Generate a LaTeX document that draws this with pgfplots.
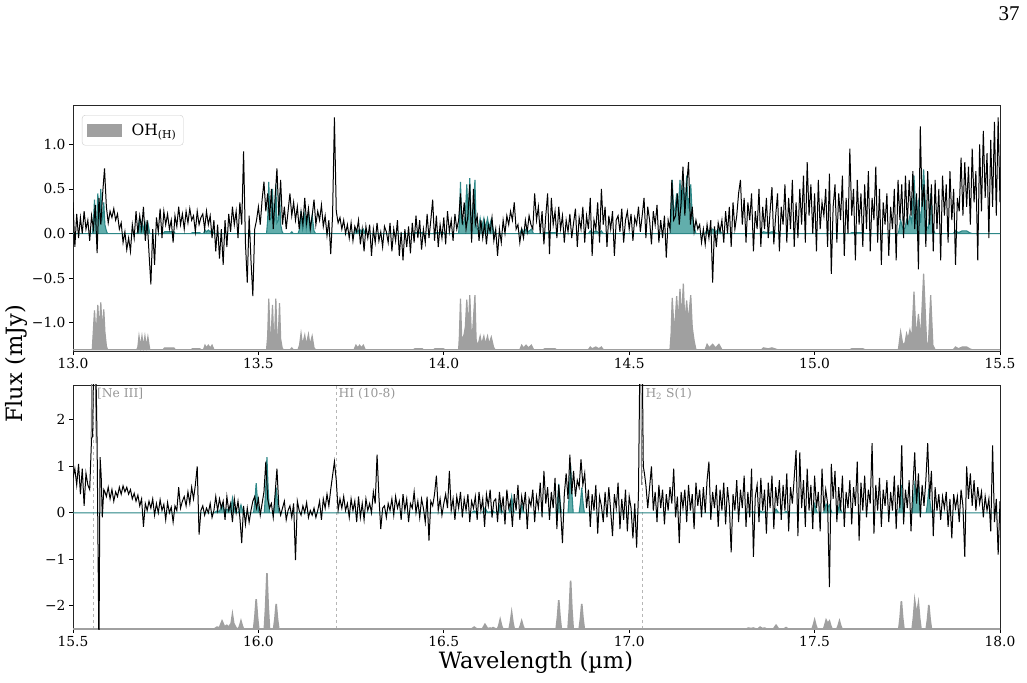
\documentclass[border=0pt]{standalone}
\usepackage{pgfplots}
\usepackage{pgfplotstable}
\pgfplotsset{compat=1.18}
\usepackage{fontspec}
\setmainfont{DejaVu Serif}
\newfontfamily\timesf{Liberation Serif}
\definecolor{ohgray}{RGB}{160,160,160}
\definecolor{tealfill}{RGB}{98,174,172}
\definecolor{tealline}{RGB}{45,135,135}
\definecolor{labgray}{RGB}{150,150,150}

\pgfplotstableread[row sep=\\]{
x t g\\
13.000 0 -1.30\\ 13.052 0 -1.30\\ 13.055 0.12 -1.08\\ 13.058 0.38 -0.86\\ 13.061 0.12 -1.08\\ 13.064 0.18 -1.02\\ 13.067 0.45 -0.80\\ 13.070 0.15 -1.05\\ 13.072 0.20 -1.00\\ 13.075 0.50 -0.77\\ 13.078 0.15 -1.05\\ 13.080 0.18 -1.02\\ 13.083 0.35 -0.85\\ 13.086 0.10 -1.10\\ 13.090 0.03 -1.26\\ 13.093 0 -1.30\\
13.172 0 -1.30\\ 13.175 0.03 -1.27\\ 13.178 0.13 -1.15\\ 13.182 0.03 -1.27\\ 13.186 0.13 -1.15\\ 13.190 0.03 -1.27\\ 13.194 0.13 -1.15\\ 13.198 0.03 -1.27\\ 13.202 0.12 -1.16\\ 13.207 0 -1.30\\
13.243 0 -1.30\\ 13.247 0.02 -1.28\\ 13.272 0.02 -1.28\\ 13.276 0 -1.30\\ 13.318 0 -1.30\\ 13.322 0.01 -1.29\\ 13.342 0.01 -1.29\\ 13.345 0 -1.30\\
13.352 0 -1.30\\ 13.356 0.04 -1.25\\ 13.360 0.02 -1.28\\ 13.365 0.04 -1.25\\ 13.370 0.02 -1.28\\ 13.375 0.04 -1.25\\ 13.380 0 -1.30\\
13.522 0 -1.30\\ 13.525 0.15 -1.15\\ 13.528 0.58 -0.73\\ 13.531 0.15 -1.12\\ 13.535 0.18 -1.10\\ 13.538 0.50 -0.80\\ 13.541 0.12 -1.15\\ 13.544 0.15 -1.12\\ 13.547 0.55 -0.73\\ 13.550 0.12 -1.15\\ 13.554 0.15 -1.12\\ 13.557 0.45 -0.78\\ 13.560 0.10 -1.18\\ 13.564 0.02 -1.28\\ 13.567 0 -1.30\\
13.586 0 -1.30\\ 13.590 0.02 -1.28\\ 13.594 0 -1.30\\
13.607 0 -1.30\\ 13.611 0.05 -1.25\\ 13.615 0.25 -1.12\\ 13.619 0.06 -1.25\\ 13.625 0.22 -1.14\\ 13.629 0.06 -1.25\\ 13.635 0.25 -1.13\\ 13.639 0.06 -1.25\\ 13.645 0.20 -1.15\\ 13.650 0.03 -1.28\\ 13.654 0 -1.30\\
13.758 0 -1.30\\ 13.763 0.05 -1.25\\ 13.768 0.02 -1.28\\ 13.773 0.05 -1.25\\ 13.778 0.02 -1.28\\ 13.783 0.05 -1.25\\ 13.788 0 -1.30\\
13.918 0 -1.30\\ 13.922 0.01 -1.29\\ 13.942 0.01 -1.29\\ 13.945 0 -1.30\\ 13.972 0 -1.30\\ 13.976 0.01 -1.29\\ 13.999 0.01 -1.29\\ 14.003 0 -1.30\\
14.040 0 -1.30\\ 14.042 0.15 -1.15\\ 14.045 0.58 -0.73\\ 14.048 0.15 -1.15\\ 14.052 0.10 -1.18\\ 14.055 0.15 -1.12\\ 14.058 0.20 -1.05\\ 14.062 0.55 -0.74\\ 14.066 0.15 -1.10\\ 14.070 0.62 -0.69\\ 14.074 0.15 -1.10\\ 14.078 0.18 -1.08\\ 14.084 0.60 -0.69\\ 14.087 0.10 -1.18\\ 14.090 0.05 -1.25\\
14.094 0.06 -1.22\\ 14.098 0.17 -1.15\\ 14.102 0.06 -1.24\\ 14.108 0.17 -1.15\\ 14.112 0.06 -1.24\\ 14.118 0.17 -1.15\\ 14.122 0.06 -1.24\\ 14.128 0.16 -1.16\\ 14.134 0.03 -1.27\\ 14.138 0 -1.30\\
14.205 0 -1.30\\ 14.210 0.05 -1.25\\ 14.215 0.02 -1.28\\ 14.222 0.05 -1.25\\ 14.228 0.02 -1.28\\ 14.236 0.05 -1.25\\ 14.242 0 -1.30\\
14.268 0 -1.30\\ 14.272 0.01 -1.29\\ 14.300 0.01 -1.29\\ 14.304 0 -1.30\\
14.390 0 -1.30\\ 14.395 0.03 -1.27\\ 14.400 0.01 -1.29\\ 14.410 0.03 -1.27\\ 14.418 0.01 -1.29\\ 14.425 0.03 -1.27\\ 14.430 0 -1.30\\
14.610 0 -1.30\\ 14.613 0.15 -1.12\\ 14.616 0.60 -0.72\\ 14.620 0.25 -1.00\\ 14.624 0.28 -0.98\\ 14.628 0.45 -0.70\\ 14.632 0.25 -1.00\\ 14.637 0.60 -0.62\\ 14.641 0.28 -0.98\\ 14.646 0.60 -0.56\\ 14.650 0.25 -1.00\\ 14.655 0.65 -0.75\\ 14.659 0.28 -1.00\\ 14.666 0.55 -0.69\\ 14.670 0.20 -1.05\\ 14.675 0.08 -1.20\\ 14.680 0 -1.30\\
14.705 0 -1.30\\ 14.710 0.05 -1.24\\ 14.716 0.02 -1.28\\ 14.725 0.05 -1.24\\ 14.733 0.02 -1.28\\ 14.742 0.05 -1.24\\ 14.750 0 -1.30\\
14.857 0 -1.30\\ 14.862 0.02 -1.28\\ 14.875 0.01 -1.29\\ 14.885 0.02 -1.28\\ 14.900 0 -1.30\\
15.095 0 -1.30\\ 15.100 0.01 -1.29\\ 15.130 0.01 -1.29\\ 15.136 0 -1.30\\
15.226 0 -1.30\\ 15.232 0.15 -1.10\\ 15.238 0.05 -1.25\\ 15.244 0.06 -1.22\\ 15.248 0.15 -1.12\\ 15.252 0.10 -1.18\\ 15.257 0.20 -1.08\\ 15.262 0.12 -1.18\\ 15.268 0.65 -0.65\\ 15.274 0.10 -1.18\\ 15.280 0.35 -0.90\\ 15.286 0.12 -1.18\\ 15.294 0.72 -0.45\\ 15.302 0.08 -1.22\\ 15.307 0.06 -1.24\\ 15.313 0.45 -0.69\\ 15.319 0.05 -1.25\\ 15.325 0 -1.30\\
15.374 0 -1.30\\ 15.380 0.03 -1.27\\ 15.388 0.01 -1.29\\ 15.398 0.03 -1.27\\ 15.410 0.03 -1.27\\ 15.418 0.01 -1.29\\ 15.424 0 -1.30\\ 15.500 0 -1.30\\
}\topmodel

\pgfplotstableread[row sep=\\]{
x t g\\
15.500 0 -2.50\\ 15.881 0 -2.50\\ 15.888 0.04 -2.46\\ 15.895 0.03 -2.47\\ 15.902 0.17 -2.33\\ 15.9085 0.05 -2.45\\ 15.915 0.08 -2.42\\ 15.920 0.04 -2.46\\ 15.9265 0.12 -2.38\\ 15.930 0.31 -2.19\\ 15.9335 0.12 -2.38\\ 15.940 0.02 -2.48\\ 15.946 0 -2.50\\ 15.9495 0.07 -2.43\\ 15.953 0.17 -2.33\\ 15.9565 0.07 -2.43\\ 15.960 0 -2.50\\
15.987 0 -2.50\\ 15.9905 0.26 -2.24\\ 15.994 0.64 -1.86\\ 15.9975 0.26 -2.24\\ 16.001 0 -2.50\\
16.016 0 -2.50\\ 16.0195 0.48 -2.02\\ 16.023 1.20 -1.30\\ 16.0265 0.48 -2.02\\ 16.030 0 -2.50\\
16.041 0 -2.50\\ 16.0445 0.22 -2.28\\ 16.048 0.54 -1.96\\ 16.0515 0.22 -2.28\\ 16.055 0 -2.50\\
16.575 0 -2.50\\ 16.582 0.04 -2.46\\ 16.589 0 -2.50\\ 16.604 0 -2.50\\ 16.611 0.10 -2.40\\ 16.618 0.01 -2.49\\ 16.625 0.02 -2.48\\ 16.629 0.01 -2.49\\ 16.633 0.03 -2.47\\ 16.640 0 -2.50\\
16.645 0 -2.50\\ 16.6485 0.08 -2.42\\ 16.652 0.20 -2.30\\ 16.6555 0.08 -2.42\\ 16.659 0 -2.50\\
16.676 0 -2.50\\ 16.6795 0.14 -2.36\\ 16.683 0.35 -2.15\\ 16.6865 0.14 -2.36\\ 16.690 0 -2.50\\
16.703 0 -2.50\\ 16.7065 0.07 -2.43\\ 16.710 0.17 -2.33\\ 16.7135 0.07 -2.43\\ 16.717 0 -2.50\\
16.803 0 -2.50\\ 16.8065 0.25 -2.25\\ 16.810 0.62 -1.88\\ 16.8135 0.25 -2.25\\ 16.817 0 -2.50\\
16.835 0 -2.50\\ 16.8385 0.42 -2.08\\ 16.842 1.04 -1.46\\ 16.8455 0.42 -2.08\\ 16.849 0 -2.50\\
16.865 0 -2.50\\ 16.8685 0.22 -2.28\\ 16.872 0.54 -1.96\\ 16.8755 0.22 -2.28\\ 16.879 0 -2.50\\
17.316 0 -2.50\\ 17.321 0.02 -2.48\\ 17.328 0.01 -2.49\\ 17.335 0.02 -2.48\\ 17.342 0 -2.50\\ 17.347 0 -2.50\\ 17.353 0.04 -2.46\\ 17.359 0.01 -2.49\\ 17.365 0.02 -2.48\\ 17.371 0 -2.50\\
17.389 0 -2.50\\ 17.396 0.08 -2.42\\ 17.403 0 -2.50\\ 17.417 0 -2.50\\ 17.423 0.03 -2.47\\ 17.429 0 -2.50\\
17.493 0 -2.50\\ 17.4965 0.08 -2.42\\ 17.500 0.19 -2.31\\ 17.5035 0.08 -2.42\\ 17.507 0 -2.50\\
17.524 0 -2.50\\ 17.5275 0.08 -2.42\\ 17.531 0.19 -2.31\\ 17.5355 0.12 -2.38\\ 17.540 0.17 -2.33\\ 17.5435 0.07 -2.43\\ 17.547 0 -2.50\\
17.560 0 -2.50\\ 17.5635 0.07 -2.43\\ 17.567 0.17 -2.33\\ 17.5705 0.07 -2.43\\ 17.574 0 -2.50\\
17.727 0 -2.50\\ 17.7305 0.24 -2.26\\ 17.734 0.60 -1.90\\ 17.7375 0.24 -2.26\\ 17.741 0 -2.50\\
17.763 0 -2.50\\ 17.7665 0.24 -2.26\\ 17.770 0.60 -1.90\\ 17.775 0.30 -2.20\\ 17.780 0.55 -1.95\\ 17.7835 0.22 -2.28\\ 17.787 0 -2.50\\
17.801 0 -2.50\\ 17.8045 0.21 -2.29\\ 17.808 0.52 -1.98\\ 17.8115 0.21 -2.29\\ 17.815 0 -2.50\\ 18.000 0 -2.50\\
}\botmodel

\pgfplotstableread[row sep=\\]{
x y\\
13.000 0.35\\ 13.005 -0.15\\ 13.010 0.22\\ 13.015 -0.05\\ 13.020 0.18\\ 13.025 0.00\\ 13.030 0.25\\ 13.035 0.05\\ 13.040 0.15\\ 13.045 -0.08\\
13.050 0.20\\ 13.055 0.05\\ 13.060 0.32\\ 13.065 -0.22\\ 13.070 0.40\\ 13.075 0.10\\ 13.080 0.45\\ 13.085 0.73\\ 13.090 0.30\\ 13.095 0.12\\
13.100 0.25\\ 13.105 0.18\\ 13.110 0.28\\ 13.115 0.15\\ 13.120 0.22\\ 13.125 0.05\\ 13.130 0.12\\ 13.135 -0.10\\ 13.140 0.02\\ 13.145 -0.18\\
13.150 -0.05\\ 13.155 -0.20\\ 13.160 0.10\\ 13.165 -0.05\\ 13.170 0.25\\ 13.175 0.00\\ 13.180 0.20\\ 13.185 0.05\\ 13.190 0.30\\ 13.195 -0.08\\
13.200 0.15\\ 13.205 -0.22\\ 13.210 -0.57\\ 13.215 0.05\\ 13.220 -0.35\\ 13.225 0.18\\ 13.230 0.02\\ 13.235 0.28\\ 13.240 -0.05\\ 13.245 0.25\\
13.250 0.10\\ 13.255 0.22\\ 13.260 0.05\\ 13.265 0.15\\ 13.270 -0.10\\ 13.275 0.20\\ 13.280 0.08\\ 13.285 0.30\\ 13.290 0.10\\ 13.295 0.22\\
13.300 0.05\\ 13.305 0.25\\ 13.310 0.12\\ 13.315 0.28\\ 13.320 0.15\\ 13.325 0.20\\ 13.330 0.02\\ 13.335 0.25\\ 13.340 0.10\\ 13.345 0.18\\
13.350 0.22\\ 13.355 0.05\\ 13.360 0.25\\ 13.365 0.10\\ 13.370 0.20\\ 13.375 -0.05\\ 13.380 0.15\\ 13.385 -0.20\\ 13.390 0.10\\ 13.395 -0.28\\
13.400 0.05\\ 13.405 -0.35\\ 13.410 0.15\\ 13.415 -0.15\\ 13.420 0.22\\ 13.425 0.02\\ 13.430 0.30\\ 13.435 0.10\\ 13.440 0.25\\ 13.445 -0.05\\
13.450 0.35\\ 13.455 0.10\\ 13.460 0.92\\ 13.465 -0.10\\ 13.470 -0.55\\ 13.475 0.20\\ 13.480 -0.30\\ 13.485 -0.70\\ 13.490 0.05\\ 13.495 0.15\\
13.500 0.30\\ 13.505 0.10\\ 13.510 0.38\\ 13.515 0.58\\ 13.520 0.25\\ 13.525 0.45\\ 13.530 0.15\\ 13.535 0.50\\ 13.540 0.05\\ 13.545 0.40\\
13.550 0.73\\ 13.555 0.20\\ 13.560 0.60\\ 13.565 0.10\\ 13.570 0.30\\ 13.575 0.05\\ 13.580 0.25\\ 13.585 0.45\\ 13.590 0.20\\ 13.595 0.35\\
13.600 0.15\\ 13.605 0.30\\ 13.610 0.05\\ 13.615 0.25\\ 13.620 0.10\\ 13.625 0.40\\ 13.630 0.12\\ 13.635 0.28\\ 13.640 0.05\\ 13.645 0.20\\
13.650 0.38\\ 13.655 0.10\\ 13.660 0.25\\ 13.665 0.15\\ 13.670 0.32\\ 13.675 0.08\\ 13.680 0.20\\ 13.685 -0.02\\ 13.690 0.15\\ 13.695 -0.23\\
13.700 0.20\\ 13.705 1.30\\ 13.710 0.25\\ 13.715 0.12\\ 13.720 0.18\\ 13.725 0.05\\ 13.730 0.15\\ 13.735 0.00\\ 13.740 0.10\\ 13.745 -0.05\\
13.750 0.12\\ 13.755 -0.08\\ 13.760 0.08\\ 13.765 0.02\\ 13.770 0.15\\ 13.775 -0.12\\ 13.780 0.05\\ 13.785 -0.20\\ 13.790 0.08\\ 13.795 -0.05\\
13.800 0.10\\ 13.805 -0.25\\ 13.810 0.05\\ 13.815 -0.10\\ 13.820 0.12\\ 13.825 -0.08\\ 13.830 0.02\\ 13.835 -0.15\\ 13.840 0.08\\ 13.845 0.02\\
13.850 -0.10\\ 13.855 0.12\\ 13.860 -0.20\\ 13.865 0.05\\ 13.870 -0.08\\ 13.875 0.15\\ 13.880 -0.25\\ 13.885 0.02\\ 13.890 -0.30\\ 13.895 0.05\\
13.900 -0.15\\ 13.905 0.08\\ 13.910 -0.22\\ 13.915 0.12\\ 13.920 -0.10\\ 13.925 0.20\\ 13.930 -0.05\\ 13.935 0.15\\ 13.940 -0.18\\ 13.945 0.05\\
13.950 -0.10\\ 13.955 0.22\\ 13.960 -0.05\\ 13.965 0.15\\ 13.970 0.38\\ 13.975 -0.08\\ 13.980 0.20\\ 13.985 -0.15\\ 13.990 0.10\\ 13.995 -0.05\\
14.000 0.18\\ 14.005 -0.12\\ 14.010 0.25\\ 14.015 0.02\\ 14.020 0.15\\ 14.025 -0.08\\ 14.030 0.22\\ 14.035 0.05\\ 14.040 0.15\\ 14.045 0.45\\
14.050 0.10\\ 14.055 0.35\\ 14.060 0.05\\ 14.065 0.20\\ 14.070 0.55\\ 14.075 -0.10\\ 14.080 0.50\\ 14.085 0.10\\ 14.090 0.20\\ 14.095 -0.08\\
14.100 0.15\\ 14.105 -0.05\\ 14.110 0.12\\ 14.115 -0.12\\ 14.120 0.10\\ 14.125 0.02\\ 14.130 0.18\\ 14.135 -0.08\\ 14.140 0.05\\ 14.145 -0.25\\
14.150 0.05\\ 14.155 -0.10\\ 14.160 0.15\\ 14.165 0.00\\ 14.170 0.20\\ 14.175 0.10\\ 14.180 0.25\\ 14.185 0.15\\ 14.190 0.35\\ 14.195 0.05\\
14.200 0.10\\ 14.205 -0.10\\ 14.210 0.05\\ 14.215 -0.05\\ 14.220 0.15\\ 14.225 0.02\\ 14.230 0.20\\ 14.235 0.10\\ 14.240 0.05\\ 14.245 0.45\\
14.250 0.15\\ 14.255 0.30\\ 14.260 0.00\\ 14.265 0.25\\ 14.270 -0.12\\ 14.275 0.20\\ 14.280 0.45\\ 14.285 -0.23\\ 14.290 0.40\\ 14.295 0.10\\
14.300 0.25\\ 14.305 -0.05\\ 14.310 0.30\\ 14.315 0.05\\ 14.320 0.20\\ 14.325 -0.10\\ 14.330 0.15\\ 14.335 0.02\\ 14.340 0.22\\ 14.345 -0.05\\
14.350 0.12\\ 14.355 0.28\\ 14.360 -0.15\\ 14.365 0.18\\ 14.370 0.05\\ 14.375 0.30\\ 14.380 -0.10\\ 14.385 0.20\\ 14.390 0.05\\ 14.395 0.40\\
14.400 -0.25\\ 14.405 0.15\\ 14.410 0.05\\ 14.415 0.35\\ 14.420 -0.10\\ 14.425 0.50\\ 14.430 0.10\\ 14.435 0.30\\ 14.440 -0.15\\ 14.445 0.20\\
14.450 0.05\\ 14.455 0.25\\ 14.460 -0.25\\ 14.465 0.15\\ 14.470 0.20\\ 14.475 0.02\\ 14.480 0.28\\ 14.485 -0.10\\ 14.490 0.15\\ 14.495 0.25\\
14.500 0.05\\ 14.505 0.22\\ 14.510 -0.08\\ 14.515 0.18\\ 14.520 0.10\\ 14.525 0.30\\ 14.530 0.02\\ 14.535 0.20\\ 14.540 0.40\\ 14.545 -0.05\\
14.550 0.30\\ 14.555 0.15\\ 14.560 -0.12\\ 14.565 0.25\\ 14.570 0.10\\ 14.575 0.32\\ 14.580 -0.10\\ 14.585 0.15\\ 14.590 -0.05\\ 14.595 0.20\\
14.600 -0.27\\ 14.605 0.15\\ 14.610 0.05\\ 14.615 0.60\\ 14.620 0.15\\ 14.625 0.20\\ 14.630 0.45\\ 14.635 0.10\\ 14.640 0.35\\ 14.645 0.75\\
14.650 0.20\\ 14.655 0.55\\ 14.660 0.80\\ 14.665 0.10\\ 14.670 0.30\\ 14.675 0.02\\ 14.680 0.15\\ 14.685 0.05\\ 14.690 0.10\\ 14.695 -0.10\\
14.700 0.05\\ 14.705 -0.12\\ 14.710 0.10\\ 14.715 -0.05\\ 14.720 0.15\\ 14.725 -0.55\\ 14.730 0.08\\ 14.735 -0.15\\ 14.740 0.12\\ 14.745 0.02\\
14.750 0.15\\ 14.755 -0.10\\ 14.760 0.25\\ 14.765 0.00\\ 14.770 0.30\\ 14.775 -0.15\\ 14.780 0.35\\ 14.785 0.05\\ 14.790 0.20\\ 14.795 0.45\\
14.800 0.60\\ 14.805 0.10\\ 14.810 0.40\\ 14.815 -0.10\\ 14.820 0.35\\ 14.825 0.15\\ 14.830 0.45\\ 14.835 -0.20\\ 14.840 0.25\\ 14.845 0.05\\
14.850 0.50\\ 14.855 -0.15\\ 14.860 0.30\\ 14.865 0.05\\ 14.870 0.40\\ 14.875 -0.05\\ 14.880 0.25\\ 14.885 0.52\\ 14.890 -0.12\\ 14.895 0.20\\
14.900 0.45\\ 14.905 -0.20\\ 14.910 0.30\\ 14.915 0.10\\ 14.920 0.55\\ 14.925 -0.10\\ 14.930 0.40\\ 14.935 0.05\\ 14.940 0.60\\ 14.945 -0.15\\
14.950 0.35\\ 14.955 -0.05\\ 14.960 0.50\\ 14.965 0.10\\ 14.970 0.65\\ 14.975 -0.10\\ 14.980 0.80\\ 14.985 0.20\\ 14.990 0.55\\ 14.995 0.00\\
15.000 0.45\\ 15.005 -0.20\\ 15.010 0.60\\ 15.015 0.05\\ 15.020 0.35\\ 15.025 0.20\\ 15.030 0.50\\ 15.035 -0.15\\ 15.040 0.67\\ 15.045 -0.45\\
15.050 0.30\\ 15.055 0.55\\ 15.060 -0.10\\ 15.065 0.45\\ 15.070 0.15\\ 15.075 0.65\\ 15.080 -0.25\\ 15.085 0.40\\ 15.090 0.00\\ 15.095 0.95\\
15.100 0.20\\ 15.105 0.50\\ 15.110 -0.30\\ 15.115 0.60\\ 15.120 0.10\\ 15.125 0.45\\ 15.130 -0.15\\ 15.135 0.55\\ 15.140 0.05\\ 15.145 0.70\\
15.150 -0.20\\ 15.155 0.40\\ 15.160 0.15\\ 15.165 0.75\\ 15.170 -0.10\\ 15.175 0.50\\ 15.180 -0.35\\ 15.185 0.35\\ 15.190 0.10\\ 15.195 0.45\\
15.200 -0.25\\ 15.205 0.30\\ 15.210 0.05\\ 15.215 0.50\\ 15.220 -0.30\\ 15.225 0.60\\ 15.230 0.15\\ 15.235 0.55\\ 15.240 -0.05\\ 15.245 0.65\\
15.250 0.10\\ 15.255 0.60\\ 15.260 0.20\\ 15.265 0.70\\ 15.270 0.05\\ 15.275 0.45\\ 15.280 -0.40\\ 15.285 1.20\\ 15.290 0.30\\ 15.295 0.55\\
15.300 -0.15\\ 15.305 0.70\\ 15.310 0.10\\ 15.315 0.55\\ 15.320 -0.20\\ 15.325 0.60\\ 15.330 0.05\\ 15.335 0.50\\ 15.340 -0.30\\ 15.345 0.65\\
15.350 0.20\\ 15.355 0.55\\ 15.360 -0.10\\ 15.365 0.70\\ 15.370 0.15\\ 15.375 0.50\\ 15.380 -0.35\\ 15.385 0.40\\ 15.390 0.25\\ 15.395 0.85\\
15.400 0.20\\ 15.405 0.80\\ 15.410 0.30\\ 15.415 0.75\\ 15.420 0.10\\ 15.425 0.95\\ 15.430 0.35\\ 15.435 0.70\\ 15.440 -0.30\\ 15.445 1.00\\
15.450 0.25\\ 15.455 1.15\\ 15.460 0.40\\ 15.465 0.90\\ 15.470 -0.05\\ 15.475 1.05\\ 15.480 0.30\\ 15.485 1.25\\ 15.490 0.20\\ 15.495 1.30\\
15.500 0.35\\
}\topdata

\pgfplotstableread[row sep=\\]{
x y\\
15.500 0.75\\ 15.505 0.95\\ 15.510 0.60\\ 15.515 1.05\\ 15.520 0.40\\ 15.525 0.95\\ 15.530 0.15\\ 15.535 0.85\\ 15.540 0.60\\ 15.545 0.50\\
15.550 1.60\\ 15.553 1.65\\ 15.556 3.50\\ 15.561 3.50\\ 15.565 1.50\\ 15.570 -3.00\\ 15.573 1.20\\ 15.576 0.80\\ 15.579 -0.10\\ 15.583 0.50\\ 15.586 0.45\\
15.590 0.35\\ 15.595 0.55\\ 15.600 0.30\\ 15.605 0.50\\ 15.610 0.25\\ 15.615 0.45\\ 15.620 0.35\\ 15.625 0.55\\ 15.630 0.40\\ 15.635 0.58\\
15.640 0.45\\ 15.645 0.55\\ 15.650 0.40\\ 15.655 0.50\\ 15.660 0.30\\ 15.665 0.42\\ 15.670 0.25\\ 15.675 0.38\\ 15.680 0.15\\ 15.685 0.30\\
15.690 -0.30\\ 15.695 0.20\\ 15.700 0.05\\ 15.705 0.25\\ 15.710 0.10\\ 15.715 0.30\\ 15.720 -0.05\\ 15.725 0.20\\ 15.730 0.00\\ 15.735 0.28\\
15.740 0.05\\ 15.745 0.18\\ 15.750 -0.15\\ 15.755 0.22\\ 15.760 0.00\\ 15.765 0.12\\ 15.770 -0.20\\ 15.775 0.15\\ 15.780 0.05\\ 15.785 0.55\\
15.790 0.10\\ 15.795 0.25\\ 15.800 0.35\\ 15.805 0.15\\ 15.810 0.45\\ 15.815 0.20\\ 15.820 0.55\\ 15.825 0.30\\ 15.830 0.60\\ 15.835 1.00\\
15.840 -0.47\\ 15.845 0.05\\ 15.850 0.15\\ 15.855 -0.05\\ 15.860 0.10\\ 15.865 0.00\\ 15.870 0.20\\ 15.875 -0.10\\ 15.880 0.05\\ 15.885 0.35\\
15.890 0.05\\ 15.895 0.30\\ 15.900 0.10\\ 15.905 0.25\\ 15.910 -0.15\\ 15.915 0.35\\ 15.920 0.05\\ 15.925 0.20\\ 15.930 -0.20\\ 15.935 0.30\\
15.940 0.00\\ 15.945 0.25\\ 15.950 -0.10\\ 15.955 -0.65\\ 15.960 0.15\\ 15.965 -0.25\\ 15.970 0.10\\ 15.975 -0.20\\ 15.980 0.05\\ 15.985 0.25\\
15.990 0.35\\ 15.995 0.10\\ 16.000 0.30\\ 16.005 -0.05\\ 16.010 0.20\\ 16.015 0.45\\ 16.020 1.10\\ 16.025 0.30\\ 16.030 0.10\\ 16.035 0.20\\
16.040 -0.10\\ 16.045 0.40\\ 16.050 0.95\\ 16.055 0.15\\ 16.060 -0.05\\ 16.065 0.10\\ 16.070 0.25\\ 16.075 -0.15\\ 16.080 0.05\\ 16.085 0.15\\
16.090 -0.10\\ 16.095 0.20\\ 16.100 -1.02\\ 16.105 0.25\\ 16.110 0.05\\ 16.115 -0.05\\ 16.120 0.15\\ 16.125 0.00\\ 16.130 0.22\\ 16.135 -0.10\\
16.140 0.05\\ 16.145 -0.05\\ 16.150 0.10\\ 16.155 -0.10\\ 16.160 0.05\\ 16.165 0.25\\ 16.170 -0.15\\ 16.175 0.30\\ 16.180 0.10\\ 16.185 0.40\\
16.190 0.15\\ 16.195 0.50\\ 16.200 0.80\\ 16.205 1.10\\ 16.210 0.70\\ 16.215 0.05\\ 16.220 0.30\\ 16.225 0.10\\ 16.230 0.35\\ 16.235 0.05\\
16.240 0.20\\ 16.245 -0.10\\ 16.250 0.30\\ 16.255 0.05\\ 16.260 0.25\\ 16.265 -0.20\\ 16.270 0.35\\ 16.275 -0.10\\ 16.280 0.20\\ 16.285 -0.15\\
16.290 0.30\\ 16.295 0.05\\ 16.300 0.20\\ 16.305 0.00\\ 16.310 0.45\\ 16.315 0.20\\ 16.320 1.25\\ 16.325 0.35\\ 16.330 -0.35\\ 16.335 0.10\\
16.340 0.15\\ 16.345 -0.10\\ 16.350 0.20\\ 16.355 0.05\\ 16.360 0.30\\ 16.365 -0.05\\ 16.370 0.35\\ 16.375 0.10\\ 16.380 0.25\\ 16.385 -0.15\\
16.390 0.40\\ 16.395 0.05\\ 16.400 0.30\\ 16.405 -0.20\\ 16.410 0.20\\ 16.415 0.10\\ 16.420 0.45\\ 16.425 0.00\\ 16.430 0.25\\ 16.435 -0.10\\
16.440 0.30\\ 16.445 0.10\\ 16.450 -0.20\\ 16.455 0.35\\ 16.460 -0.60\\ 16.465 0.25\\ 16.470 0.15\\ 16.475 0.40\\ 16.480 0.80\\ 16.485 0.05\\
16.490 0.30\\ 16.495 -0.05\\ 16.500 0.20\\ 16.505 0.40\\ 16.510 0.10\\ 16.515 0.90\\ 16.520 0.05\\ 16.525 0.30\\ 16.530 -0.15\\ 16.535 0.35\\
16.540 0.10\\ 16.545 0.45\\ 16.550 -0.10\\ 16.555 0.30\\ 16.560 0.05\\ 16.565 0.40\\ 16.570 -0.20\\ 16.575 0.25\\ 16.580 0.10\\ 16.585 0.35\\
16.590 -0.15\\ 16.595 0.45\\ 16.600 0.05\\ 16.605 0.30\\ 16.610 -0.30\\ 16.615 0.40\\ 16.620 0.15\\ 16.625 0.50\\ 16.630 -0.10\\ 16.635 0.25\\
16.640 0.30\\ 16.645 -0.20\\ 16.650 0.45\\ 16.655 0.05\\ 16.660 0.35\\ 16.665 -0.25\\ 16.670 0.50\\ 16.675 0.10\\ 16.680 0.25\\ 16.685 -0.30\\
16.690 0.40\\ 16.695 0.05\\ 16.700 0.60\\ 16.705 -0.15\\ 16.710 0.35\\ 16.715 0.10\\ 16.720 0.45\\ 16.725 -0.35\\ 16.730 0.30\\ 16.735 0.15\\
16.740 0.50\\ 16.745 -0.20\\ 16.750 0.35\\ 16.755 0.10\\ 16.760 0.65\\ 16.765 -0.10\\ 16.770 0.90\\ 16.775 0.20\\ 16.780 0.55\\ 16.785 -0.15\\
16.790 0.45\\ 16.795 0.10\\ 16.800 0.75\\ 16.805 -0.35\\ 16.810 0.60\\ 16.815 0.05\\ 16.820 -0.65\\ 16.825 0.40\\ 16.830 0.85\\ 16.835 0.30\\
16.840 1.25\\ 16.845 0.40\\ 16.850 0.90\\ 16.855 0.35\\ 16.860 0.70\\ 16.865 0.55\\ 16.870 1.15\\ 16.875 0.60\\ 16.880 0.85\\ 16.885 0.10\\
16.890 0.50\\ 16.895 -0.30\\ 16.900 0.40\\ 16.905 0.05\\ 16.910 0.60\\ 16.915 -0.45\\ 16.920 0.35\\ 16.925 0.15\\ 16.930 -0.20\\ 16.935 0.45\\
16.940 -0.10\\ 16.945 0.55\\ 16.950 0.05\\ 16.955 -0.50\\ 16.960 0.40\\ 16.965 0.10\\ 16.970 0.65\\ 16.975 -0.35\\ 16.980 0.30\\ 16.985 -0.15\\
16.990 0.50\\ 16.995 -0.40\\ 17.000 0.35\\ 17.005 0.10\\ 17.010 -0.55\\ 17.015 0.20\\ 17.020 -0.75\\ 17.025 0.40\\ 17.029 3.50\\ 17.035 3.50\\ 17.038 1.00\\ 17.041 0.85\\
17.045 0.60\\ 17.050 0.10\\ 17.055 0.55\\ 17.060 1.00\\ 17.065 0.05\\ 17.070 0.45\\ 17.075 -0.20\\ 17.080 0.60\\ 17.085 0.10\\ 17.090 0.50\\ 17.095 -0.25\\
17.100 0.40\\ 17.105 0.05\\ 17.110 0.55\\ 17.115 0.20\\ 17.120 0.95\\ 17.125 -0.10\\ 17.130 0.35\\ 17.135 -0.65\\ 17.140 0.45\\ 17.145 0.10\\
17.150 0.50\\ 17.155 -0.20\\ 17.160 0.60\\ 17.165 0.05\\ 17.170 0.40\\ 17.175 -0.35\\ 17.180 0.65\\ 17.185 0.15\\ 17.190 0.50\\ 17.195 -0.10\\
17.200 0.55\\ 17.205 0.00\\ 17.210 0.70\\ 17.215 1.10\\ 17.220 -0.15\\ 17.225 0.45\\ 17.230 0.10\\ 17.235 0.60\\ 17.240 -0.30\\ 17.245 0.50\\
17.250 0.05\\ 17.255 0.65\\ 17.260 -0.25\\ 17.265 0.55\\ 17.270 0.15\\ 17.275 -0.85\\ 17.280 0.40\\ 17.285 0.05\\ 17.290 0.70\\ 17.295 -0.20\\
17.300 0.50\\ 17.305 0.10\\ 17.310 0.80\\ 17.315 -0.30\\ 17.320 0.45\\ 17.325 -0.10\\ 17.330 0.95\\ 17.335 -0.95\\ 17.340 0.35\\ 17.345 0.60\\
17.350 -0.20\\ 17.355 0.75\\ 17.360 0.05\\ 17.365 0.50\\ 17.370 -0.45\\ 17.375 0.65\\ 17.380 0.10\\ 17.385 0.80\\ 17.390 -0.35\\ 17.395 0.55\\
17.400 0.15\\ 17.405 0.70\\ 17.410 -0.15\\ 17.415 0.60\\ 17.420 0.05\\ 17.425 0.85\\ 17.430 -0.40\\ 17.435 0.55\\ 17.440 0.20\\ 17.445 0.75\\
17.450 1.35\\ 17.455 -0.50\\ 17.460 1.30\\ 17.465 0.10\\ 17.470 0.70\\ 17.475 -0.30\\ 17.480 0.95\\ 17.485 0.05\\ 17.490 0.60\\ 17.495 -0.35\\
17.500 0.80\\ 17.505 0.10\\ 17.510 0.45\\ 17.515 -0.40\\ 17.520 0.95\\ 17.525 0.05\\ 17.530 0.50\\ 17.535 0.20\\ 17.540 -1.60\\ 17.545 1.05\\
17.550 0.30\\ 17.555 0.90\\ 17.560 -0.20\\ 17.565 0.55\\ 17.570 0.05\\ 17.575 0.80\\ 17.580 -0.30\\ 17.585 0.45\\ 17.590 0.10\\ 17.595 0.70\\
17.600 -0.25\\ 17.605 0.55\\ 17.610 0.15\\ 17.615 1.10\\ 17.620 -0.60\\ 17.625 0.65\\ 17.630 0.05\\ 17.635 0.80\\ 17.640 -0.10\\ 17.645 0.50\\
17.650 0.20\\ 17.655 1.50\\ 17.660 -0.45\\ 17.665 0.60\\ 17.670 0.05\\ 17.675 0.75\\ 17.680 -0.30\\ 17.685 0.50\\ 17.690 0.15\\ 17.695 0.70\\
17.700 -0.20\\ 17.705 0.45\\ 17.710 0.05\\ 17.715 0.80\\ 17.720 -0.35\\ 17.725 0.60\\ 17.730 0.10\\ 17.735 1.45\\ 17.740 -0.25\\ 17.745 0.50\\
17.750 0.10\\ 17.755 0.70\\ 17.760 -0.40\\ 17.765 0.55\\ 17.770 1.30\\ 17.775 0.20\\ 17.780 0.85\\ 17.785 -0.10\\ 17.790 0.60\\ 17.795 0.15\\
17.800 0.70\\ 17.805 1.50\\ 17.810 0.30\\ 17.815 0.90\\ 17.820 -0.50\\ 17.825 0.55\\ 17.830 0.05\\ 17.835 0.40\\ 17.840 -0.15\\ 17.845 0.35\\
17.850 0.10\\ 17.855 0.45\\ 17.860 -0.30\\ 17.865 0.30\\ 17.870 -0.55\\ 17.875 0.40\\ 17.880 0.10\\ 17.885 0.35\\ 17.890 -0.20\\ 17.895 0.50\\
17.900 0.15\\ 17.905 -0.95\\ 17.910 1.00\\ 17.915 0.30\\ 17.920 0.85\\ 17.925 0.15\\ 17.930 0.70\\ 17.935 0.05\\ 17.940 0.55\\ 17.945 0.20\\
17.950 0.45\\ 17.955 -0.10\\ 17.960 0.35\\ 17.965 0.05\\ 17.970 0.30\\ 17.975 -0.40\\ 17.980 1.45\\ 17.985 -0.20\\ 17.990 0.30\\ 17.995 -0.90\\
18.000 0.25\\
}\botdata

\pgfplotsset{
  spec/.style={
    scale only axis, width=927pt,
    tick align=outside, tick pos=left,
    major tick length=4pt,
    every tick/.style={black, line width=0.8pt},
    axis line style={black!85, line width=0.9pt},
    tick label style={font=\fontsize{13.8}{15}\selectfont},
  },
}

\begin{document}
\begin{tikzpicture}
\path[use as bounding box] (0,0) rectangle (1027pt,682pt);

% ---------- top panel ----------
\begin{axis}[spec, at={(73pt,331pt)}, anchor=south west, height=246pt,
  xmin=13, xmax=15.5, ymin=-1.315, ymax=1.44,
  xtick={13,13.5,14,14.5,15,15.5}, xticklabels={13.0,13.5,14.0,14.5,15.0,15.5},
  ytick={-1,-0.5,0,0.5,1}, yticklabels={−1.0,−0.5,0.0,0.5,1.0},
  legend style={at={(0.0097,0.959)}, anchor=north west, draw=black!20, rounded corners=3pt, fill=white,
    inner xsep=5pt, inner ysep=6.5pt, font=\fontsize{15.5}{17}\selectfont},
  legend cell align=left]
\addlegendimage{legend image code/.code={\fill[ohgray, sharp corners] (0pt,-6.2pt) rectangle (34pt,6.2pt);}}
\addlegendentry{\hspace*{8pt}OH\textsubscript{(H)}}
\addplot[forget plot, fill=ohgray, draw=ohgray, line width=1.2pt] table[x=x, y=g] {\topmodel} -- cycle;
\addplot[forget plot, fill=tealfill, draw=tealline, line width=1.1pt] table[x=x, y=t] {\topmodel} -- cycle;
\addplot[forget plot, black, line width=1.0pt] table[x=x, y=y] {\topdata};
\end{axis}

% ---------- bottom panel ----------
\begin{axis}[spec, at={(73pt,53pt)}, anchor=south west, height=244pt,
  xmin=15.5, xmax=18, ymin=-2.5, ymax=2.75,
  xtick={15.5,16,16.5,17,17.5,18}, xticklabels={15.5,16.0,16.5,17.0,17.5,18.0},
  ytick={-2,-1,0,1,2}, yticklabels={−2,−1,0,1,2}]
\draw[labgray!70, dashed, line width=0.6pt] (axis cs:15.555,-2.5) -- (axis cs:15.555,2.75);
\draw[labgray!70, dashed, line width=0.6pt] (axis cs:16.209,-2.5) -- (axis cs:16.209,2.75);
\draw[labgray!70, dashed, line width=0.6pt] (axis cs:17.034,-2.5) -- (axis cs:17.034,2.75);
\addplot[fill=ohgray, draw=ohgray, line width=1.6pt] table[x=x, y=g] {\botmodel} -- cycle;
\addplot[fill=tealfill, draw=tealline, line width=1.1pt] table[x=x, y=t] {\botmodel} -- cycle;
\addplot[gray, line width=1.0pt] coordinates {(15.549,1.58) (15.5515,3.5)};
\addplot[gray, line width=1.0pt] coordinates {(15.5595,3.5) (15.5625,1.50)};
\addplot[gray, line width=1.0pt] coordinates {(17.031,3.5) (17.0335,0.6)};
\addplot[black, line width=1.0pt] table[x=x, y=y] {\botdata};
\node[anchor=north west, text=labgray, font=\fontsize{12.3}{14}\selectfont, inner sep=1.5pt, xshift=2pt] at (axis cs:15.555,2.72) {[Ne III]};
\node[anchor=north west, text=labgray, font=\fontsize{12.3}{14}\selectfont, inner sep=1.5pt, xshift=1pt] at (axis cs:16.209,2.72) {HI (10-8)};
\node[anchor=north west, text=labgray, font=\fontsize{12.3}{14}\selectfont, inner sep=1.5pt, xshift=2pt] at (axis cs:17.034,2.72) {H\textsubscript{2} S(1)};
\end{axis}

\node[rotate=90, font=\fontsize{22.5}{26}\selectfont] at (16pt,318pt) {Flux (mJy)};
\node[font=\fontsize{22.5}{26}\selectfont] at (536pt,20pt) {Wavelength (µm)};
\node[font=\timesf\fontsize{21}{24}\selectfont] at (1009pt,668pt) {37};
\end{tikzpicture}
\end{document}
